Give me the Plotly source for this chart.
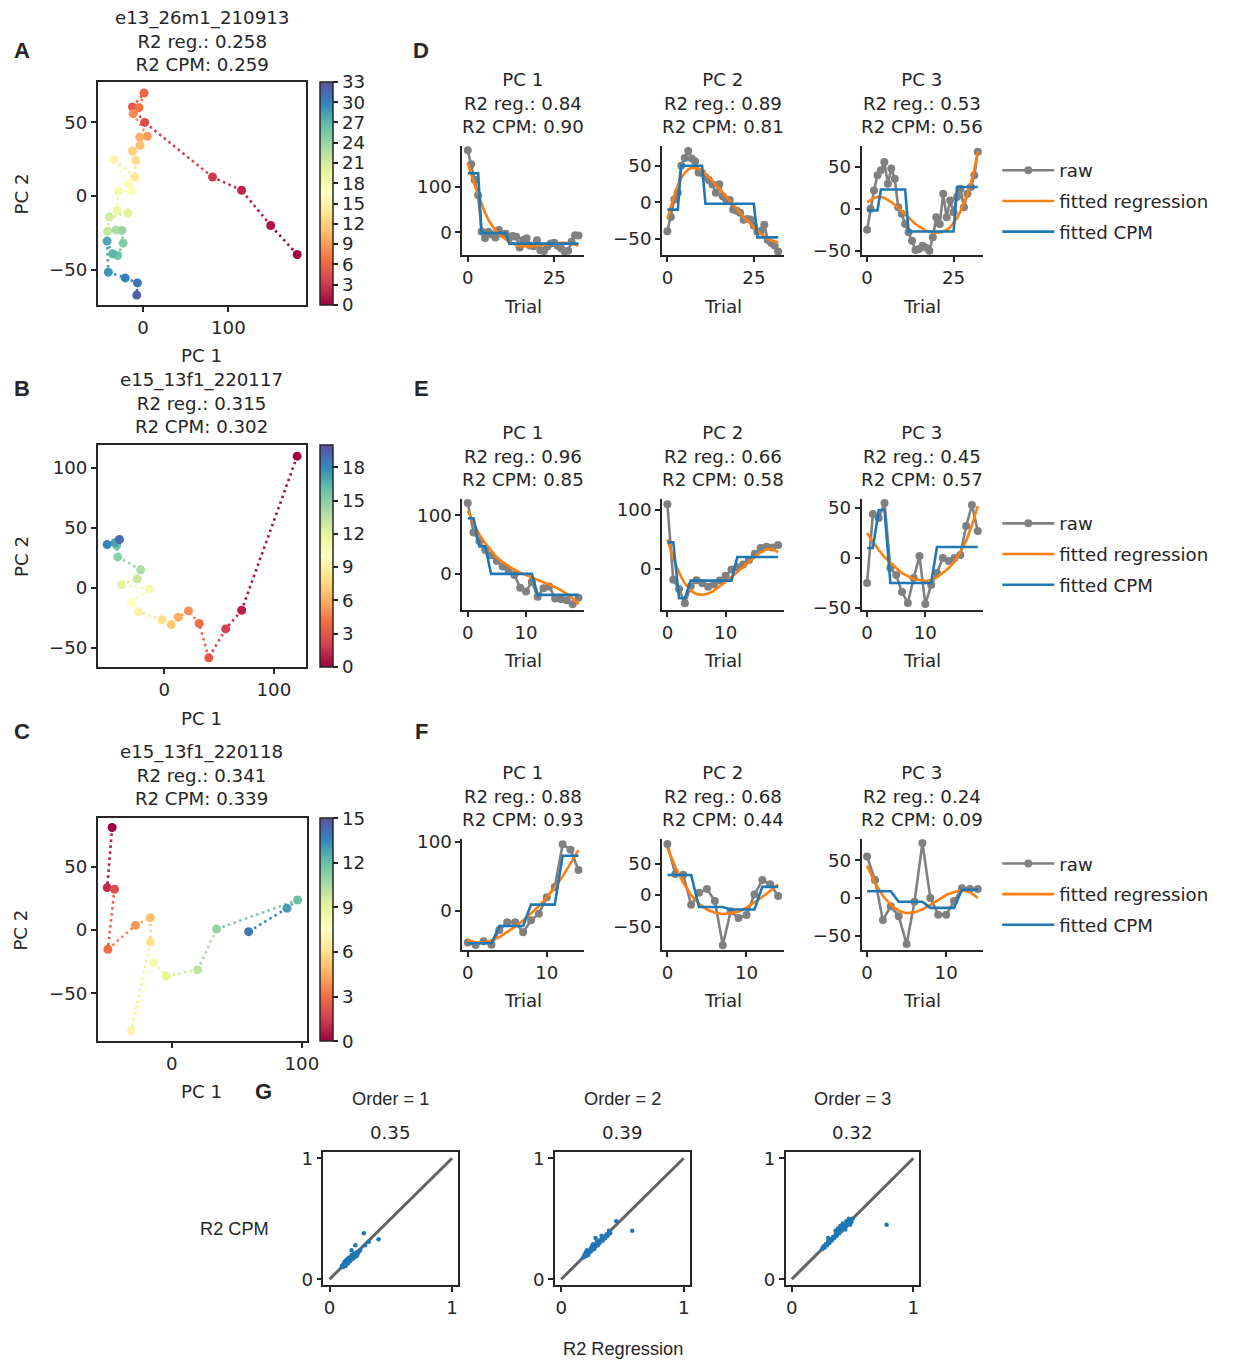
import plotly.graph_objects as go

W, H = 1238, 1365
FIG_W, FIG_H = 1238, 1365
# measured page -> picture mapping of the viewer (picture = A + S * page)
A_X, S_X = -1.0, 0.992
A_Y, S_Y = 7.1, 0.988

# ---------------- data ----------------
# Panel A / D : session e13_26m1_210913 (33 trials)
A_pc1 = [180.6, 149.6, 115.5, 81.4, 1.9, -12.4, 1.2, -4.7, -11.6, 5.0, -3.9, -3.5, -12.4, -8.5, -9.7,
         -33.7, -17.0, -13.2, -29.0, -30.6, -17.8, -39.5, -41.5, -31.8, -24.8, -23.3, -29.8, -35.7,
         -42.2, -40.7, -20.9, -6.6, -7.4]
A_pc2 = [-39.7, -20.0, 3.9, 12.9, 50.0, 60.5, 70.0, 60.0, 56.0, 40.6, 40.0, 34.5, 30.6, 24.3, 12.9,
         24.7, 8.4, 3.2, 3.2, -9.8, -11.6, -14.3, -24.0, -23.0, -23.4, -32.0, -40.4, -39.2, -30.6,
         -51.7, -55.6, -59.0, -67.3]
A_pc3 = [-25, 0, 22, 40, 46, 56, 30, 48, 36, 2, -6, -18, -28, -38, -49, -48, -44, -46, -50, -34,
         -10, -18, 18, -10, 10, -4, 14, 24, 2, 18, 26, 40, 68]
D_reg = [
    [152, 126, 104, 84, 62, 43, 27, 14, 4, -4, -11, -16, -21, -25, -28, -30, -31, -31, -31, -30,
     -29, -28, -27, -26, -25, -24, -23, -23, -23, -24, -25, -27, -30],
    [-22, -5, 10, 23, 33, 40, 45, 47, 47, 46, 43, 39, 34, 29, 24, 18, 13, 8, 2, -3, -9, -14, -20,
     -25, -30, -35, -39, -43, -47, -50, -52, -54, -55],
    [8, 11, 13, 14, 14, 13, 11, 8, 5, 1, -3, -7, -11, -15, -18, -21, -24, -26, -27, -28, -28, -28,
     -27, -25, -22, -17, -11, -3, 6, 17, 30, 47, 68],
]
D_cpm = [
    [130, 130, 130, 130, -2, -2, -2, -2, -2, -2, -2, -2, -25, -25, -25, -25, -25, -25, -25, -25,
     -25, -25, -25, -25, -25, -25, -25, -25, -25, -25, -25, -25, -25],
    [-10, -10, -10, -10, 50, 50, 50, 50, 50, 50, 50, -2, -2, -2, -2, -2, -2, -2, -2, -2, -2, -2,
     -2, -2, -2, -2, -48, -48, -48, -48, -48, -48, -48],
    [-2, -2, -2, -2, 23, 23, 23, 23, 23, 23, 23, 23, -27, -27, -27, -27, -27, -27, -27, -27, -27,
     -27, -27, -27, -27, -27, 26, 26, 26, 26, 26, 26, 26],
]

# Panel B / E : session e15_13f1_220117 (20 trials)
B_pc1 = [121.2, 70.6, 56.0, 40.6, 31.8, 22.1, 12.7, 6.4, -2.1, -23.6, -30.3, -13.6, -39.1, -24.5,
         -21.5, -42.4, -43.5, -45.0, -52.1, -40.9]
B_pc2 = [109.7, -18.6, -34.2, -58.3, -29.7, -19.2, -24.4, -30.6, -26.7, -20.0, -11.9, -1.1, 2.8,
         7.5, 15.0, 25.8, 35.5, 37.5, 36.1, 40.3]
B_pc3 = [-25, 44, 40, 55, -10, -17, -34, -45, -20, 2, -46, -27, -15, 0, -3, 0, 3, 32, 53, 27]
E_reg = [
    [108, 86, 67, 52, 39, 28, 20, 13, 7, 2, -2, -6, -10, -14, -18, -23, -28, -34, -42, -52],
    [50, 18, -7, -25, -37, -43, -44, -42, -37, -30, -22, -14, -6, 3, 12, 20, 28, 33, 34, 28],
    [25, 16, 8, 1, -5, -10, -15, -18, -21, -22, -23, -22, -19, -15, -10, -4, 6, 17, 33, 52],
]
E_cpm = [
    [95, 95, 47, 47, 0, 0, 0, 0, 0, 0, 0, 0, -36, -36, -36, -36, -36, -36, -36, -36],
    [45, 45, -50, -50, -20, -20, -20, -20, -20, -20, -20, -20, 20, 20, 20, 20, 20, 20, 20, 20],
    [10, 10, 48, 48, -25, -25, -25, -25, -25, -25, -25, -25, 11, 11, 11, 11, 11, 11, 11, 11],
]

# Panel C / F : session e15_13f1_220118 (15 trials)
C_pc1 = [-45.8, -49.6, -44.0, -49.1, -27.9, -16.4, -16.4, -31.2, -13.8, -4.1, 19.9, 34.5, 96.7,
         88.5, 59.1]
C_pc2 = [81.2, 33.6, 32.3, -15.3, 3.7, 9.8, -9.5, -79.6, -25.9, -36.5, -31.5, 0.8, 23.8, 17.2, -1.3]
C_pc3 = [55, 24, -29, -11, -24, -61, -5, 73, 0, -22, -22, -4, 13, 12, 12]
F_reg = [
    [-42, -46, -46, -43, -38, -31, -23, -14, -4, 7, 20, 34, 50, 68, 88],
    [75, 45, 20, 0, -14, -23, -28, -30, -29, -26, -20, -12, -3, 7, 17],
    [43, 20, 3, -9, -17, -20, -19, -15, -9, -2, 4, 8, 10, 8, 0],
]
F_cpm = [
    [-47, -47, -47, -47, -22, -22, -22, -22, 9, 9, 9, 9, 80, 80, 80],
    [32, 32, 32, 32, -19, -19, -19, -19, -23, -23, -23, -23, 13, 13, 13],
    [9, 9, 9, 9, -5, -5, -5, -5, -13, -13, -13, -13, 11, 11, 11],
]

session_names = ["e13_26m1_210913", "e15_13f1_220117", "e15_13f1_220118"]
session_r2_reg = ["0.258", "0.315", "0.341"]
session_r2_cpm = ["0.259", "0.302", "0.339"]
pc_r2_reg = [["0.84", "0.89", "0.53"], ["0.96", "0.66", "0.45"], ["0.88", "0.68", "0.24"]]
pc_r2_cpm = [["0.90", "0.81", "0.56"], ["0.85", "0.58", "0.57"], ["0.93", "0.44", "0.09"]]
pc_names = ["PC 1", "PC 2", "PC 3"]

cbar_max = [33, 20, 15]
cbar_ticks = [[0, 3, 6, 9, 12, 15, 18, 21, 24, 27, 30, 33],
              [0, 3, 6, 9, 12, 15, 18],
              [0, 3, 6, 9, 12, 15]]
scatter_xticks = [[0, 100], [0, 100], [0, 100]]
scatter_yticks = [[-50, 0, 50], [-50, 0, 50, 100], [-50, 0, 50]]
ts_xticks = [[0, 25], [0, 10], [0, 10]]
ts_yticks = [
    [[0, 100], [-50, 0, 50], [-50, 0, 50]],
    [[0, 100], [0, 100], [-50, 0, 50]],
    [[0, 100], [-50, 0, 50], [-50, 0, 50]],
]

# Panel G : R2 CPM vs R2 regression per polynomial order
G_orders = ["Order = 1", "Order = 2", "Order = 3"]
G_corr = ["0.35", "0.39", "0.32"]
G1_reg = [0.10, 0.11, 0.12, 0.12, 0.13, 0.13, 0.14, 0.14, 0.15, 0.15, 0.16, 0.16, 0.17, 0.17, 0.18,
          0.18, 0.19, 0.19, 0.20, 0.20, 0.21, 0.22, 0.22, 0.23, 0.24, 0.25, 0.21, 0.18, 0.29, 0.28,
          0.32, 0.40, 0.11, 0.13, 0.15]
G1_cpm = [0.11, 0.12, 0.12, 0.14, 0.13, 0.15, 0.14, 0.16, 0.15, 0.13, 0.16, 0.18, 0.17, 0.15, 0.18,
          0.20, 0.17, 0.19, 0.21, 0.18, 0.20, 0.22, 0.19, 0.21, 0.23, 0.24, 0.28, 0.24, 0.28, 0.38,
          0.31, 0.33, 0.10, 0.11, 0.17]
G2_reg = [0.18, 0.19, 0.20, 0.20, 0.21, 0.22, 0.22, 0.23, 0.24, 0.24, 0.25, 0.25, 0.26, 0.27, 0.27,
          0.28, 0.29, 0.29, 0.30, 0.31, 0.31, 0.32, 0.33, 0.34, 0.35, 0.36, 0.37, 0.38, 0.39, 0.40,
          0.28, 0.33, 0.45, 0.58, 0.21, 0.26]
G2_cpm = [0.18, 0.20, 0.19, 0.22, 0.21, 0.23, 0.20, 0.22, 0.25, 0.23, 0.24, 0.27, 0.26, 0.25, 0.28,
          0.27, 0.29, 0.31, 0.28, 0.30, 0.32, 0.31, 0.33, 0.32, 0.35, 0.34, 0.37, 0.36, 0.40, 0.38,
          0.34, 0.36, 0.48, 0.40, 0.24, 0.29]
G3_reg = [0.25, 0.26, 0.27, 0.28, 0.29, 0.30, 0.31, 0.32, 0.33, 0.34, 0.35, 0.36, 0.37, 0.38, 0.39,
          0.40, 0.41, 0.42, 0.43, 0.44, 0.45, 0.46, 0.47, 0.48, 0.49, 0.50, 0.42, 0.45, 0.40, 0.44,
          0.48, 0.36, 0.30, 0.78, 0.38, 0.47]
G3_cpm = [0.25, 0.27, 0.26, 0.29, 0.28, 0.31, 0.30, 0.33, 0.32, 0.35, 0.34, 0.37, 0.36, 0.39, 0.38,
          0.41, 0.40, 0.43, 0.42, 0.45, 0.44, 0.47, 0.46, 0.49, 0.47, 0.50, 0.46, 0.48, 0.44, 0.41,
          0.45, 0.40, 0.34, 0.45, 0.42, 0.50]
G_diag = [0, 1]
G_ticks = [0, 1]

# ---------------- styling helpers ----------------
FONT = "DejaVu Sans"
ARIAL = "Liberation Sans, Arial"
INK = "#262626"
FS = 18.2
SPECTRAL = [(158, 1, 66), (213, 62, 79), (244, 109, 67), (253, 174, 97), (254, 224, 139),
            (255, 255, 191), (230, 245, 152), (171, 221, 164), (102, 194, 165), (50, 136, 189),
            (94, 79, 162)]
CSCALE = [[i / 10, "rgb(%d,%d,%d)" % c] for i, c in enumerate(SPECTRAL)]


def spectral(t):
    t = min(max(t, 0.0), 1.0)
    pos = t * 10
    i = min(int(pos), 9)
    f = pos - i
    c0, c1 = SPECTRAL[i], SPECTRAL[i + 1]
    return "rgb(%d,%d,%d)" % tuple(round(a + (b - a) * f) for a, b in zip(c0, c1))


def fx(px):
    return ((px - A_X) / S_X) / FIG_W


def fy(py):
    return 1 - ((py - A_Y) / S_Y) / FIG_H


def xd(a, b):
    return [fx(a), fx(b)]


def yd(top, bottom):
    return [fy(bottom), fy(top)]


def names(n):
    return ("xaxis" if n == 1 else f"xaxis{n}", "yaxis" if n == 1 else f"yaxis{n}",
            "x" if n == 1 else f"x{n}", "y" if n == 1 else f"y{n}")


def axis_style(box):
    return dict(showline=True, mirror=box, linecolor=INK, linewidth=1.5, ticks="outside",
                ticklen=5, tickwidth=1.5, tickcolor=INK, showgrid=False, zeroline=False,
                tickfont=dict(family=FONT, size=FS, color=INK), fixedrange=True)


fig = go.Figure()
layout = {}
annotations = []


def ann(text, px, py, size=FS, family=FONT, bold=False, angle=0):
    if bold:
        text = "<b>%s</b>" % text
    annotations.append(dict(text=text, x=fx(px), y=fy(py), xref="paper", yref="paper",
                            xanchor="center", yanchor="middle", showarrow=False,
                            textangle=angle, font=dict(family=family, size=size, color=INK)))


# ---------------- A, B, C : PC trajectories ----------------
sessions = [(A_pc1, A_pc2), (B_pc1, B_pc2), (C_pc1, C_pc2)]
sc_boxes = [(97, 306, 81, 304), (97, 306, 444, 666), (97, 307, 817, 1040)]
sc_ranges = [([-53, 191.5], [-74, 77.5]), ([-60.6, 129.7], [-66, 119]), ([-56.8, 104.3], [-88, 88.6])]
title_mid = [40, 402, 774]
pc1_label_y = [355, 717, 1090]

for s, ((xs, ys), (l, r, t, b), (xr, yr)) in enumerate(zip(sessions, sc_boxes, sc_ranges)):
    n = s + 1
    xa, ya, xref, yref = names(n)
    layout[xa] = dict(domain=xd(l, r), range=xr, anchor=yref, tickvals=scatter_xticks[s],
                      **axis_style(True))
    layout[ya] = dict(domain=yd(t, b), range=yr, anchor=xref, tickvals=scatter_yticks[s],
                      **axis_style(True))
    npts = len(xs)
    trials = list(range(npts))
    # dotted connecting segments coloured along the trajectory
    for i in range(npts - 1):
        fig.add_trace(go.Scatter(x=xs[i:i + 2], y=ys[i:i + 2], mode="lines", xaxis=xref, yaxis=yref,
                                 line=dict(color=spectral((i + 0.5) / cbar_max[s]), width=2.6,
                                           dash="2.5px,3.5px"),
                                 showlegend=False, hoverinfo="skip"))
    fig.add_trace(go.Scatter(
        x=xs, y=ys, mode="markers", xaxis=xref, yaxis=yref, showlegend=False,
        marker=dict(size=9, color=trials, colorscale=CSCALE, cmin=0, cmax=cbar_max[s],
                    line=dict(width=0), showscale=True,
                    colorbar=dict(x=fx(320), xanchor="left", y=fy(t), yanchor="top",
                                  len=fy(t) - fy(b), lenmode="fraction", thickness=13,
                                  thicknessmode="pixels", xpad=0, ypad=0, outlinewidth=1.5,
                                  outlinecolor=INK, ticks="outside", ticklen=5, tickwidth=1.5,
                                  tickcolor=INK, tickvals=cbar_ticks[s],
                                  tickfont=dict(family=FONT, size=FS, color=INK)))))
    ann("%s<br>R2 reg.: %s<br>R2 CPM: %s" % (session_names[s], session_r2_reg[s], session_r2_cpm[s]),
        201, title_mid[s])
    ann("PC 2", 20, (t + b) / 2, angle=-90)
    ann("PC 1", 201, pc1_label_y[s])

# ---------------- D, E, F : PCs over trials ----------------
raws = [[A_pc1, A_pc2, A_pc3], [B_pc1, B_pc2, B_pc3], [C_pc1, C_pc2, C_pc3]]
regs = [D_reg, E_reg, F_reg]
cpms = [D_cpm, E_cpm, F_cpm]
row_tb = [(145, 254), (498, 609), (838, 949)]
col_lr = [(462, 584), (662, 784), (862, 984)]
ts_xr = [[-1.6, 33.6], [-0.95, 19.95], [-0.7, 14.7]]
ts_yr = [
    [[-50, 190], [-72, 77], [-55, 75]],
    [[-62, 128], [-70, 118.5], [-52, 59]],
    [[-57, 104], [-87.6, 89], [-69, 78]],
]
ts_title_mid = [102, 455, 795]
trial_label_y = [306, 659, 999]
legend_keys = ["legend", "legend2", "legend3"]
legend_top = [151, 504, 844]

for row in range(3):
    t, b = row_tb[row]
    for col in range(3):
        n = 4 + row * 3 + col
        l, r = col_lr[col]
        xa, ya, xref, yref = names(n)
        layout[xa] = dict(domain=xd(l, r), range=ts_xr[row], anchor=yref, tickvals=ts_xticks[row],
                          **axis_style(False))
        layout[ya] = dict(domain=yd(t, b), range=ts_yr[row][col], anchor=xref,
                          tickvals=ts_yticks[row][col], **axis_style(False))
        raw = raws[row][col]
        trials = list(range(len(raw)))
        show = col == 0
        lg = legend_keys[row]
        fig.add_trace(go.Scatter(x=trials, y=raw, mode="lines+markers", name="raw",
                                 xaxis=xref, yaxis=yref, legend=lg, legendgroup="raw%d" % row,
                                 showlegend=show, line=dict(color="#808080", width=2.6),
                                 marker=dict(color="#808080", size=8)))
        fig.add_trace(go.Scatter(x=trials, y=regs[row][col], mode="lines", name="fitted regression",
                                 xaxis=xref, yaxis=yref, legend=lg, legendgroup="reg%d" % row,
                                 showlegend=show, line=dict(color="#ff7f0e", width=2.6)))
        fig.add_trace(go.Scatter(x=trials, y=cpms[row][col], mode="lines", name="fitted CPM",
                                 xaxis=xref, yaxis=yref, legend=lg, legendgroup="cpm%d" % row,
                                 showlegend=show, line=dict(color="#1f77b4", width=2.6)))
        ann("%s<br>R2 reg.: %s<br>R2 CPM: %s" % (pc_names[col], pc_r2_reg[row][col],
                                                 pc_r2_cpm[row][col]),
            (l + r) / 2, ts_title_mid[row])
        ann("Trial", (l + r) / 2, trial_label_y[row])
    layout[legend_keys[row]] = dict(x=fx(998), xanchor="left", y=fy(legend_top[row]),
                                    yanchor="top", traceorder="grouped", tracegroupgap=4,
                                    itemwidth=52,
                                    bgcolor="rgba(0,0,0,0)", borderwidth=0,
                                    font=dict(family=FONT, size=FS, color=INK))

# ---------------- G : R2 comparison ----------------
G_x = [G1_reg, G2_reg, G3_reg]
G_y = [G1_cpm, G2_cpm, G3_cpm]
G_lr = [(323, 458), (555, 690), (786, 920)]
for k in range(3):
    n = 13 + k
    l, r = G_lr[k]
    xa, ya, xref, yref = names(n)
    layout[xa] = dict(domain=xd(l, r), range=[-0.05, 1.05], anchor=yref, tickvals=G_ticks,
                      **axis_style(True))
    layout[ya] = dict(domain=yd(1151, 1284), range=[-0.05, 1.05], anchor=xref, tickvals=G_ticks,
                      **axis_style(True))
    fig.add_trace(go.Scatter(x=G_diag, y=G_diag, mode="lines", xaxis=xref, yaxis=yref,
                             showlegend=False, line=dict(color="rgba(70,70,70,0.85)", width=3)))
    fig.add_trace(go.Scatter(x=G_x[k], y=G_y[k], mode="markers", xaxis=xref, yaxis=yref,
                             showlegend=False, marker=dict(color="#1f77b4", size=4.5)))
    ann(G_orders[k], (l + r) / 2, 1098, family=ARIAL)
    ann(G_corr[k], (l + r) / 2, 1131)
ann("R2 CPM", 234, 1228, family=ARIAL)
ann("R2 Regression", 623, 1348, family=ARIAL)

# panel letters
for letter, px, py in [("A", 21, 50), ("B", 21, 387), ("C", 21, 730), ("D", 421, 50),
                       ("E", 421, 387), ("F", 421, 730), ("G", 263, 1090)]:
    ann(letter, px, py, size=22, family=ARIAL, bold=True)

fig.update_layout(width=FIG_W, height=FIG_H, margin=dict(l=0, r=0, t=0, b=0, pad=0),
                  paper_bgcolor="white", plot_bgcolor="white",
                  font=dict(family=FONT, size=FS, color=INK),
                  annotations=annotations, **layout)

fig.write_html("out.html", config={"displayModeBar": False},
               post_script="document.body.style.margin='0';document.body.style.overflow='hidden';")
